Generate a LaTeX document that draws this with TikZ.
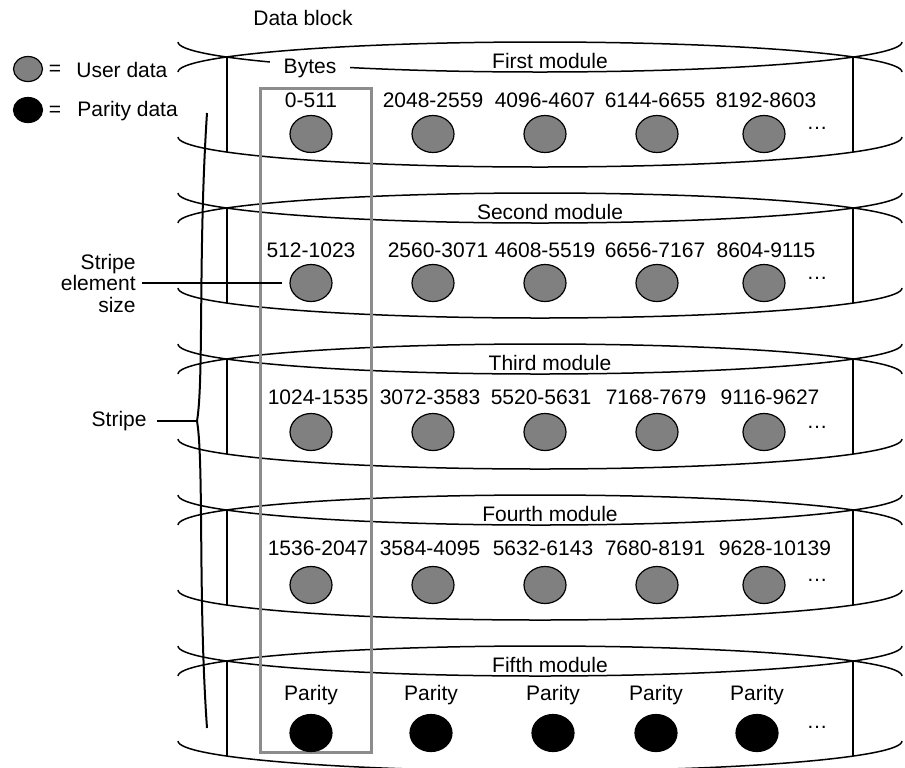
\documentclass[tikz,border=0pt]{standalone}
\usepackage{fontspec}
\setmainfont{Liberation Sans}
\usetikzlibrary{shapes.geometric}

\tikzset{
  modline/.style={line width=0.75pt},
  userdot/.style={ellipse, draw, line width=0.6pt, fill=gray, minimum width=21pt, minimum height=18.5pt, inner sep=0pt},
  paritydot/.style={userdot, fill=black},
  lbl/.style={font=\fontsize{10.5}{10.75}\selectfont, inner sep=0pt},
}

\begin{document}
\begin{tikzpicture}[x=0.5pt, y=0.5pt]
  \useasboundingbox (0,0) rectangle (905,-767);
  % modules, one per platter
  \foreach \c/\name [count=\k] in {57/First,208/Second,359/Third,510/Fourth,661/Fifth} {
    \draw[modline] (178,{-\c+15}) arc[start angle=180, end angle=360, x radius=362, y radius=30];
    \draw[modline] (178,{-\c-15}) arc[start angle=180, end angle=0, x radius=362, y radius=30];
    \draw[modline] (178,{-\c-80}) arc[start angle=180, end angle=360, x radius=362, y radius=30];
    \draw[modline] (227,-\c) -- (227,{-\c-95});
    \draw[modline] (853,-\c) -- (853,{-\c-95});
    \node[lbl] (mod\k) at (550,{-\c-4}) {\name\ module};
  }
  \node[lbl, fill=white, inner xsep=7pt, inner ysep=2pt] (bytes) at (310,-68) {Bytes};
  \node[lbl] (datablock) at (303,-18) {Data block};

  % legend
  \node[userdot, minimum width=14.5pt, minimum height=12.5pt] (keyuser) at (28,-69) {};
  \node[lbl] (equser) at (55,-70) {=};
  \node[lbl, anchor=west] (txtuser) at (76,-70) {User data};
  \node[paritydot, minimum width=14.5pt, minimum height=12.5pt] (keypar) at (28,-110) {};
  \node[lbl] (eqpar) at (55,-111) {=};
  \node[lbl, anchor=west] (txtpar) at (77,-111) {Parity data};

  % stripe brace
  \coordinate (bracetip) at (197,-421);
  \draw[line width=1pt] (207,-113) .. controls (198,-250) and (204,-380) .. (bracetip)
        .. controls (204,-462) and (198,-600) .. (207,-728);

  % stripe element
  \draw[draw=black!45, line width=1.5pt] (260,-88) rectangle (371,-752);

  % byte ranges
  \foreach \e/\l/\t [count=\i] in {311/311/0-511, 433/433/2048-2559, 545/545/4096-4607, 657/655/6144-6655, 764/766/8192-8603} {
    \node[lbl] (ma\i) at (\l,-100) {\t};
    \node[userdot] (ea\i) at (\e,-134) {};
  }
  \node[lbl] (dotsa) at (817,-128) {\dots};
  \foreach \e/\l/\t [count=\i] in {311/311/512-1023, 433/438/2560-3071, 545/545/4608-5519, 657/655/6656-7167, 764/766/8604-9115} {
    \node[lbl] (mb\i) at (\l,-250) {\t};
    \node[userdot] (eb\i) at (\e,-283) {};
  }
  \node[lbl] (dotsb) at (817,-278) {\dots};
  \foreach \e/\l/\t [count=\i] in {311/318/1024-1535, 433/430/3072-3583, 545/541/5520-5631, 657/656/7168-7679, 764/770/9116-9627} {
    \node[lbl] (mc\i) at (\l,-397) {\t};
    \node[userdot] (ec\i) at (\e,-432) {};
  }
  \node[lbl] (dotsc) at (817,-427) {\dots};
  \foreach \e/\l/\t [count=\i] in {311/318/1536-2047, 433/430/3584-4095, 545/543/5632-6143, 657/655/7680-8191, 764/775/9628-10139} {
    \node[lbl] (md\i) at (\l,-548) {\t};
    \node[userdot] (ed\i) at (\e,-585) {};
  }
  \node[lbl] (dotsd) at (817,-580) {\dots};
  \foreach \e [count=\i] in {311,431,553,656,757} {
    \node[lbl] (me\i) at (\e,-695) {Parity};
    \node[paritydot] (ee\i) at (\e,-733) {};
  }
  \node[lbl] (dotse) at (817,-727) {\dots};

  % side labels
  \node[lbl, align=right, anchor=east] (stripeel) at (136,-283) {Stripe\\element\\size};
  \draw[modline, shorten <=3pt, shorten >=3.5pt] (stripeel.east) -- (eb1.west);
  \node[lbl, anchor=east] (stripe) at (147,-421) {Stripe};
  \draw[modline, shorten <=5pt] (stripe.east) -- (bracetip);
\end{tikzpicture}
\end{document}
